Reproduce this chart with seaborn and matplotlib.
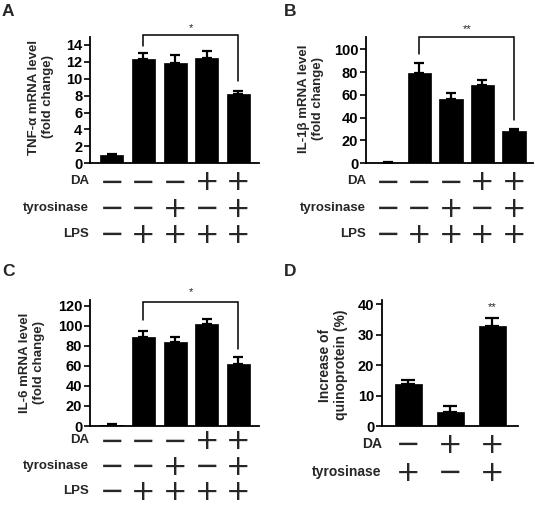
import numpy as np
import pandas as pd
import matplotlib
matplotlib.use("Agg")
import matplotlib.pyplot as plt
import matplotlib.transforms as mtransforms
import seaborn as sns

# ---------------- data ----------------
groups5 = ["g1", "g2", "g3", "g4", "g5"]
tnf_mean = [1.0, 12.3, 11.9, 12.4, 8.2]
tnf_sem = [0.15, 0.75, 0.9, 0.9, 0.3]
il1b_mean = [0.5, 79.5, 56.0, 69.0, 28.0]
il1b_sem = [0.3, 8.8, 5.4, 4.0, 1.8]
il6_mean = [1.0, 88.3, 83.4, 101.7, 61.8]
il6_sem = [0.5, 6.7, 5.6, 5.3, 7.0]

groups3 = ["h1", "h2", "h3"]
quino_mean = [13.9, 4.5, 32.7]
quino_sem = [1.1, 2.1, 2.9]

da5 = ["−", "−", "−", "+", "+"]
tyr5 = ["−", "−", "+", "−", "+"]
lps5 = ["−", "+", "+", "+", "+"]
da3 = ["−", "+", "+"]
tyr3 = ["+", "−", "+"]

ticks_a = [0, 2, 4, 6, 8, 10, 12, 14]
ticks_b = [0, 20, 40, 60, 80, 100]
ticks_c = [0, 20, 40, 60, 80, 100, 120]
ticks_d = [0, 10, 20, 30, 40]

# ---------------- style ----------------
sns.set_style("ticks")
plt.rcParams["font.family"] = ["Liberation Sans", "DejaVu Sans"]
plt.rcParams["font.weight"] = "bold"

W, H = 535, 507
fig = plt.figure(figsize=(W / 100, H / 100), dpi=100)
fig.patch.set_facecolor("white")

SIGN_SIZE = 21
EM = SIGN_SIZE * 100 / 72.0


def fx(px):
    return px / W


def fy(py):
    return 1 - py / H


def make_axes(left, right, top, bottom):
    return fig.add_axes([fx(left), fy(bottom), (right - left) / W, (bottom - top) / H])


def draw_panel(ax, groups, means, sems, ticks, ylim, xlim, width, capsize):
    df = pd.DataFrame({"group": groups, "value": means})
    sns.barplot(data=df, x="group", y="value", order=groups, color="black",
                saturation=1, width=width, errorbar=None, edgecolor="black",
                linewidth=0.5, ax=ax)
    n = len(groups)
    ax.errorbar(np.arange(n), means, yerr=[np.zeros(n), sems], fmt="none",
                ecolor="black", elinewidth=1.6, capsize=capsize, capthick=1.6,
                zorder=1)
    ax.set_xlim(*xlim)
    ax.set_ylim(*ylim)
    ax.set_yticks(ticks)
    ax.set_yticklabels([str(t) for t in ticks], fontsize=10.5, fontweight="bold")
    ax.set_xticks([])
    ax.set_xlabel("")
    ax.set_ylabel("")
    for s in ["top", "right"]:
        ax.spines[s].set_visible(False)
    for s in ["left", "bottom"]:
        ax.spines[s].set_linewidth(1.3)
        ax.spines[s].set_color("black")
    ax.tick_params(axis="y", direction="out", length=4, width=1.2, pad=1.5,
                   colors="black")
    ax.set_facecolor("white")


def sign_rows(ax, labels, sign_lists, row_px, label_right_px, label_size):
    # row labels on the left
    for label, py in zip(labels, row_px):
        fig.text(fx(label_right_px), fy(py), label, ha="right", va="center",
                 fontsize=label_size, fontweight="bold")
    # one stacked text per column so that rows do not collide
    step = (row_px[-1] - row_px[0]) / (len(row_px) - 1)
    ls = (step / EM - 0.208) / 0.760
    cy = (row_px[0] + row_px[-1]) / 2 + 1.2
    tr = mtransforms.blended_transform_factory(ax.transData, fig.transFigure)
    ncol = len(sign_lists[0])
    for i in range(ncol):
        col = "\n".join(s[i] for s in sign_lists)
        ax.text(i, fy(cy), col, transform=tr, ha="center", va="center",
                multialignment="center", linespacing=ls,
                fontsize=SIGN_SIZE, family="DejaVu Sans", fontweight="normal",
                clip_on=False)


def bracket(ax, i0, i1, top, y0, y1, star, star_y):
    ax.plot([i0, i0, i1, i1], [y0, top, top, y1], color="black", lw=1.1,
            clip_on=False, solid_joinstyle="miter")
    ax.text((i0 + i1) / 2, star_y, star, ha="center", va="center", fontsize=8,
            fontweight="normal", color="#222222", clip_on=False)


# ---------------- panel A ----------------
axA = make_axes(90, 259, 36.5, 163.3)
draw_panel(axA, groups5, tnf_mean, tnf_sem, ticks_a, (0, 15), (-0.69, 4.65), 0.73, 3.6)
bracket(axA, 1, 4, 15.2, 13.9, 9.7, "*", 16.0)
sign_rows(axA, ["DA", "tyrosinase", "LPS"], [da5, tyr5, lps5], [181, 207.5, 234], 89, 9.5)
fig.text(fx(41), fy(97), "TNF-α mRNA level\n(fold change)", rotation=90,
         ha="center", va="center", multialignment="center", fontsize=9.5,
         fontweight="bold", linespacing=1.15)
fig.text(fx(2), fy(4), "A", ha="left", va="top", fontsize=12.5, fontweight="bold")

# ---------------- panel B ----------------
axB = make_axes(366, 533, 36.7, 163.3)
draw_panel(axB, groups5, il1b_mean, il1b_sem, ticks_b, (0, 111), (-0.69, 4.6), 0.75, 3.6)
bracket(axB, 1, 4, 111, 95.6, 37.7, "**", 118)
sign_rows(axB, ["DA", "tyrosinase", "LPS"], [da5, tyr5, lps5], [181, 207.5, 234], 366, 9.5)
fig.text(fx(311), fy(99), "IL-1β mRNA level\n(fold change)", rotation=90,
         ha="center", va="center", multialignment="center", fontsize=9.5,
         fontweight="bold", linespacing=1.15)
fig.text(fx(284), fy(4), "B", ha="left", va="top", fontsize=12.5, fontweight="bold")

# ---------------- panel C ----------------
axC = make_axes(90, 259, 299.6, 426)
draw_panel(axC, groups5, il6_mean, il6_sem, ticks_c, (0, 126), (-0.69, 4.65), 0.73, 3.6)
bracket(axC, 1, 4, 123.3, 105.7, 76.7, "*", 133)
sign_rows(axC, ["DA", "tyrosinase", "LPS"], [da5, tyr5, lps5], [440, 465.5, 491], 89, 9.5)
fig.text(fx(32), fy(363), "IL-6 mRNA level\n(fold change)", rotation=90,
         ha="center", va="center", multialignment="center", fontsize=9.5,
         fontweight="bold", linespacing=1.15)
fig.text(fx(2), fy(264), "C", ha="left", va="top", fontsize=12.5, fontweight="bold")

# ---------------- panel D ----------------
axD = make_axes(382, 518, 300, 426)
draw_panel(axD, groups3, quino_mean, quino_sem, ticks_d, (0, 41.4), (-0.63, 2.61), 0.64, 5)
axD.text(2, 39.2, "**", ha="center", va="center", fontsize=8,
         fontweight="normal", color="#222222", clip_on=False)
sign_rows(axD, ["DA", "tyrosinase"], [da3, tyr3], [444, 471.7], 381.7, 10)
fig.text(fx(333), fy(365), "Increase of\nquinoprotein (%)", rotation=90,
         ha="center", va="center", multialignment="center", fontsize=10,
         fontweight="bold", linespacing=1.15)
fig.text(fx(284), fy(264), "D", ha="left", va="top", fontsize=12.5, fontweight="bold")

fig.savefig("out.png", dpi=100, facecolor="white")
